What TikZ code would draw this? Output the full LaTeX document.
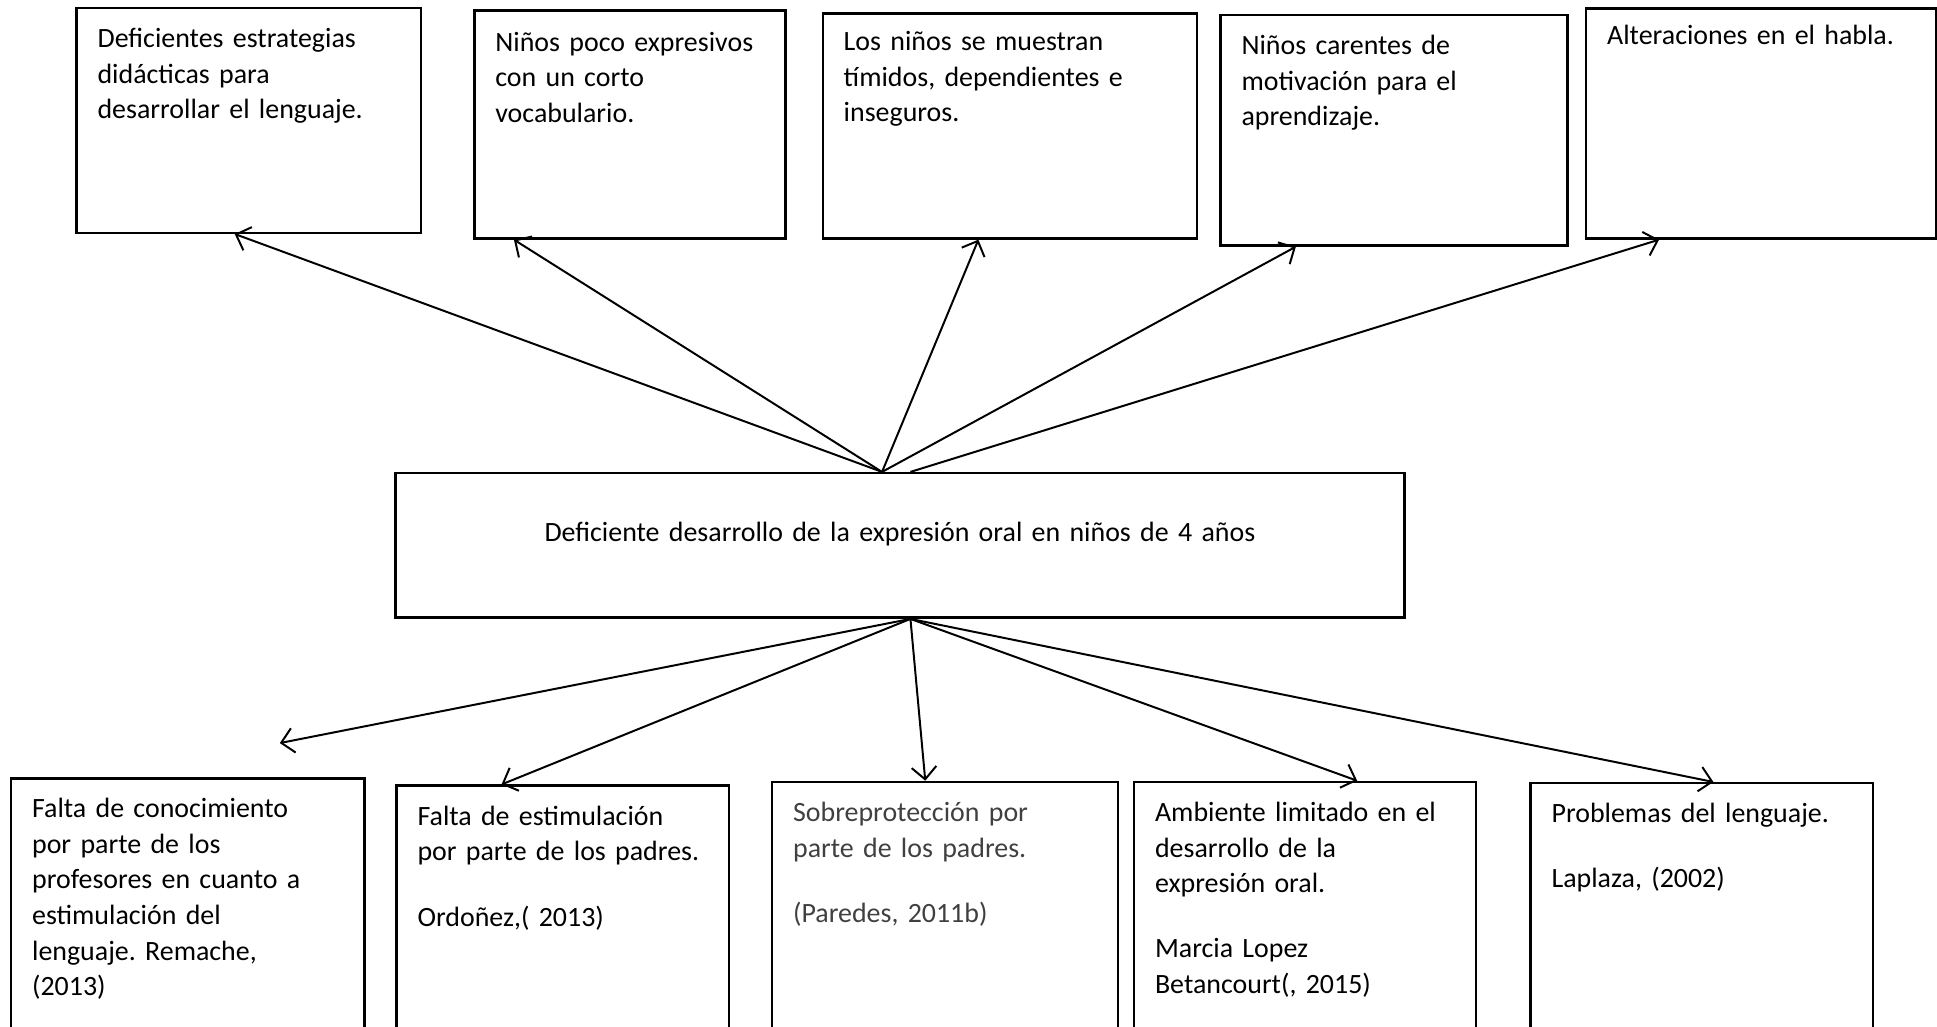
\documentclass[tikz,border=0pt]{standalone}
\usepackage{fontspec}
\setmainfont{Carlito}
\frenchspacing
\usetikzlibrary{arrows.meta,positioning}

\begin{document}
\begin{tikzpicture}[
    x=0.5pt, y=-0.5pt,
    box/.style={rectangle, draw=black, line width=1pt, anchor=north west, inner xsep=8.5pt, inner ysep=0pt, align=left, font=\fontsize{11.3}{14.4}\selectfont},
    arrow/.style={->, line width=0.8pt, >={Straight Barb[length=5pt,width=10pt]}}
]
\clip (0,0) rectangle (1568,831);

% Row 1: Effects
\node[box, text width=122.5pt, text height=16pt, text depth=75pt] (estrat) at (61,5.4) {Deficientes estrategias\\didácticas para\\desarrollar el lenguaje.};
\node[box, text width=109pt, text height=16.5pt, text depth=75.7pt] (expres) at (383,7.6) {Niños poco expresivos\\con un corto\\vocabulario.};
\node[box, text width=134.5pt, text height=15pt, text depth=76pt] (timid) at (665,10) {Los niños se muestran\\tímidos, dependientes e\\inseguros.};
\node[box, text width=123.5pt, text height=16pt, text depth=77.2pt] (motiv) at (987,11.3) {Niños carentes de\\motivación para el\\aprendizaje.};
\node[box, text width=124.5pt, text height=14.5pt, text depth=78.5pt] (habla) at (1283,6) {Alteraciones en el habla.};

% Row 2: Problem
\node[box, align=center, text width=391.5pt, text height=27.5pt, text depth=31pt] (problema) at (319,382) {Deficiente desarrollo de la expresión oral en niños de 4 años};

% Row 3: Causes
\node[box, text width=126pt, text height=16pt, text depth=110pt] (conoc) at (8,629) {Falta de conocimiento\\por parte de los\\profesores en cuanto a\\estimulación del\\lenguaje. Remache,\\(2013)};
\node[box, text width=117.5pt, text height=16pt, text depth=110pt] (estim) at (320,635) {Falta de estimulación\\por parte de los padres.\\[12pt]Ordoñez,( 2013)};
\node[box, text=black!75, text width=123pt, text height=16pt, text depth=110pt] (sobre) at (624,632) {Sobreprotección por\\parte de los padres.\\[12pt](Paredes, 2011b)};
\node[box, text width=121.5pt, text height=16pt, text depth=110pt] (ambiente) at (917,632) {Ambiente limitado en el\\desarrollo de la\\expresión oral.\\[12pt]Marcia Lopez\\Betancourt(, 2015)};
\node[box, text width=121.5pt, text height=16pt, text depth=110pt] (lenguaje) at (1238,633) {Problemas del lenguaje.\\[12pt]Laplaza, (2002)};

\coordinate (suelto) at (226.5,601.5);

% Arrows up
\draw[arrow] ([xshift=197.5pt]problema.north west) -- ([xshift=64.5pt]estrat.south west);
\draw[arrow] ([xshift=197.5pt]problema.north west) -- ([xshift=16.5pt]expres.south west);
\draw[arrow] ([xshift=197.5pt]problema.north west) -- ([xshift=63.5pt]timid.south west);
\draw[arrow] ([xshift=197.5pt]problema.north west) -- ([xshift=31pt]motiv.south west);
\draw[arrow] ([xshift=209pt]problema.north west) -- ([xshift=30pt]habla.south west);

% Arrows down
\draw[arrow] ([xshift=209pt]problema.south west) -- (suelto);
\draw[arrow] ([xshift=209pt]problema.south west) -- ([xshift=43pt]estim.north west);
\draw[arrow] ([xshift=209pt]problema.south west) -- ([xshift=62.5pt]sobre.north west);
\draw[arrow] ([xshift=209pt]problema.south west) -- ([xshift=90.8pt]ambiente.north west);
\draw[arrow] ([xshift=209pt]problema.south west) -- ([xshift=74.5pt]lenguaje.north west);
\end{tikzpicture}
\end{document}
